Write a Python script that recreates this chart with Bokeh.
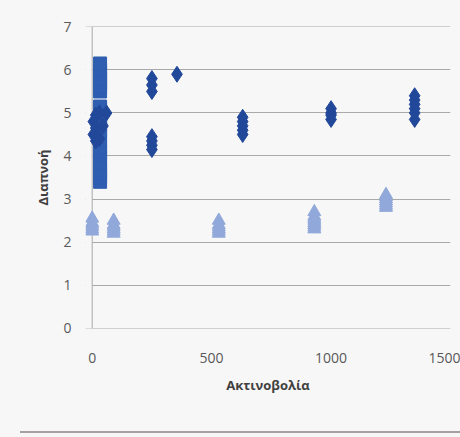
from bokeh.plotting import figure
from bokeh.models import FixedTicker, Range1d, Div, Span, BoxAnnotation
from bokeh.layouts import column
from bokeh.embed import file_html
from bokeh.resources import INLINE

# Data
square_x = [33] * 24
square_y = [3.4, 3.5, 3.6, 3.7, 3.85, 4.0, 4.1, 4.2, 4.35, 4.5, 4.6, 4.7, 4.8, 4.9, 5.0, 5.1, 5.15,
            5.5, 5.6, 5.7, 5.8, 5.9, 6.0, 6.15]

diamond_x = [5, 5, 15, 15, 15, 30, 30, 45, 60,
             250, 250, 250, 250, 250, 250, 250,
             355,
             630, 630, 630, 630, 630,
             1000, 1000, 1000, 1000,
             1350, 1350, 1350, 1350, 1350, 1350]
diamond_y = [4.5, 4.8, 4.35, 4.65, 4.95, 4.4, 5.0, 4.7, 5.0,
             5.8, 5.65, 5.5, 4.45, 4.35, 4.25, 4.15,
             5.9,
             4.9, 4.8, 4.7, 4.6, 4.5,
             5.1, 5.0, 4.95, 4.85,
             5.4, 5.3, 5.2, 5.1, 5.0, 4.85]

triangle_x = [0, 0, 0, 0, 0, 0,
              90, 90, 90, 90, 90, 90,
              530, 530, 530, 530, 530, 530,
              930, 930, 930, 930, 930, 930, 930, 930,
              1230, 1230, 1230, 1230, 1230, 1230, 1230]
triangle_y = [2.25, 2.3, 2.35, 2.4, 2.45, 2.55,
              2.2, 2.25, 2.3, 2.35, 2.4, 2.5,
              2.2, 2.25, 2.3, 2.35, 2.4, 2.5,
              2.3, 2.35, 2.4, 2.45, 2.5, 2.55, 2.6, 2.7,
              2.8, 2.85, 2.9, 2.95, 3.0, 3.05, 3.1]

x_ticks = [0, 500, 1000, 1500]
y_ticks = [0, 1, 2, 3, 4, 5, 6, 7]

BG = "#f7f7f7"
FONT = "Open Sans"
GRID = "#a9a9a9"

p = figure(width=460, height=428, output_backend="svg", toolbar_location=None,
           x_range=Range1d(-28, 1500), y_range=Range1d(-0.01, 7.01),
           min_border_left=85, min_border_right=10, min_border_top=26, min_border_bottom=100)
p.background_fill_color = BG
p.border_fill_color = BG
p.outline_line_color = None

p.xgrid.visible = False
p.ygrid.grid_line_color = GRID
p.ygrid.grid_line_width = 1
p.ygrid.ticker = FixedTicker(ticks=y_ticks)

# hide the grid left of x = 0 and draw the vertical axis line at x = 0
p.add_layout(BoxAnnotation(right=0, fill_color=BG, fill_alpha=1, line_color=None, level="underlay"))
p.add_layout(Span(location=0, dimension="height", line_color=GRID, line_width=1, level="underlay"))

p.xaxis.ticker = FixedTicker(ticks=x_ticks)
p.yaxis.ticker = FixedTicker(ticks=y_ticks)
for ax in (p.xaxis, p.yaxis):
    ax.major_tick_line_color = None
    ax.minor_tick_line_color = None
    ax.axis_line_color = None
    ax.major_label_text_font = FONT
    ax.major_label_text_font_size = "14px"
    ax.major_label_text_color = "#595959"
    ax.axis_label_text_font = FONT
    ax.axis_label_text_font_size = "13px"
    ax.axis_label_text_font_style = "bold"
    ax.axis_label_text_color = "#404040"
p.xaxis.major_label_standoff = 18
p.yaxis.major_label_standoff = 8
p.xaxis.axis_label = "Ακτινοβολία"
p.yaxis.axis_label = "Διαπνοή"
p.xaxis.axis_label_standoff = 10
p.yaxis.axis_label_standoff = 8

p.scatter(square_x, square_y, marker="square", size=13, fill_color="#2f5db0",
          line_color="#2f5db0")
p.scatter(diamond_x, diamond_y, marker="diamond", size=16, fill_color="#22489a",
          line_color="#22489a")
p.scatter(triangle_x, triangle_y, marker="triangle", size=13, fill_color="#91a8da",
          line_color="#91a8da")

rule = Div(width=440, height=2, margin=(3, 0, 4, 20),
           styles={"background-color": "#a8a0a0"}, text="")

layout = column(p, rule, spacing=0, styles={"background-color": BG})
open("out.html", "w").write(file_html(layout, INLINE))
